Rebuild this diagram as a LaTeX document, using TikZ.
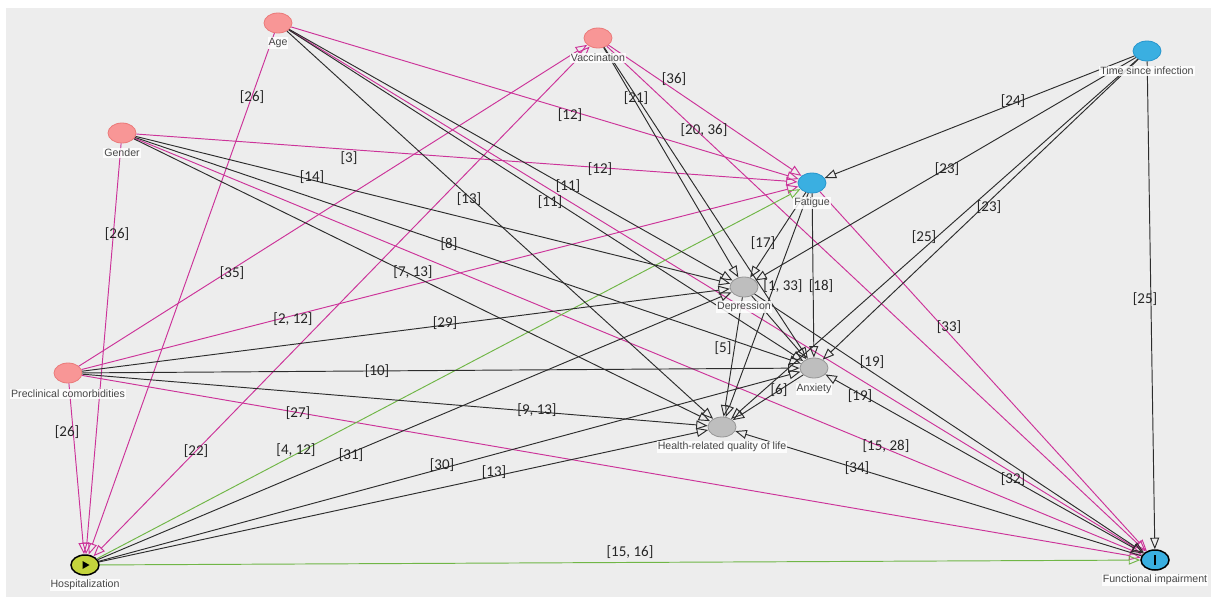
\documentclass[tikz,border=0pt]{standalone}
\usepackage{fontspec}
\setmainfont{Liberation Sans}
\newfontfamily\labfont{Carlito}
\usetikzlibrary{arrows.meta,shapes.geometric}

\definecolor{panel}{RGB}{237,237,237}
\definecolor{pinkedge}{RGB}{204,51,153}
\definecolor{greenedge}{RGB}{112,182,70}
\definecolor{darkedge}{RGB}{45,45,45}
\definecolor{rednode}{RGB}{248,150,150}
\definecolor{rednodeb}{RGB}{235,122,122}
\definecolor{bluenode}{RGB}{58,175,225}
\definecolor{bluenodeb}{RGB}{40,150,205}
\definecolor{graynode}{RGB}{190,190,190}
\definecolor{graynodeb}{RGB}{150,150,150}
\definecolor{hospfill}{RGB}{196,212,60}

\tikzset{
  var/.style={ellipse, minimum width=28pt, minimum height=20pt, inner sep=0pt, line width=0.8pt},
  covar/.style={var, fill=rednode, draw=rednodeb},
  outc/.style={var, fill=bluenode, draw=bluenodeb},
  med/.style={var, fill=graynode, draw=graynodeb},
  expo/.style={var, fill=hospfill, draw=black, line width=1.5pt},
  outcome/.style={var, fill=bluenode, draw=black, line width=1.5pt},
  vname/.style={font=\fontsize{10.6}{12}\selectfont, text=black!72, fill=white, fill opacity=0.85, text opacity=1, inner sep=1pt},
  elab/.style={font=\labfont\fontsize{15}{16}\selectfont, text=black!85, inner sep=0pt},
  tip/.tip={Triangle[open, length=11.5pt, width=9pt]},
  arr/.style={-tip, line width=0.95pt},
  twoway/.style={tip-tip, line width=0.95pt},
  blk/.style={arr, draw=darkedge},
  pnk/.style={arr, draw=pinkedge},
  grn/.style={arr, draw=greenedge},
}

\begin{document}
\begin{tikzpicture}[x=1pt, y=-1pt]
\useasboundingbox (0,0) rectangle (1213,599);
\fill[panel] (6,8) rectangle (1211,597);

% variables
\node[covar]   (age)     at (278,23)  {};
\node[covar]   (gender)  at (122,133) {};
\node[covar]   (vacc)    at (598,38)  {};
\node[outc]    (tsi)     at (1147,51) {};
\node[outc]    (fatigue) at (812,183) {};
\node[med]     (dep)     at (744,287) {};
\node[med]     (anx)     at (814,368) {};
\node[med]     (hrq)     at (722,427) {};
\node[covar]   (precl)   at (68,373)  {};
\node[expo]    (hosp)    at (85,565)  {};
\node[outcome] (fi)      at (1155,560) {};

% biasing paths
\draw[pnk] (age) -- (hosp);
\draw[pnk] (age) -- (fatigue);
\draw[pnk] (age) -- (fi);
\draw[pnk] (gender) -- (fatigue);
\draw[pnk] (gender) -- (fi);
\draw[pnk] (gender) -- (hosp);
\draw[pnk] (vacc) -- (fatigue);
\draw[pnk] (vacc) -- (fi);
\draw[twoway, draw=pinkedge] (vacc) -- (hosp);
\draw[pnk] (precl) -- (vacc);
\draw[pnk] (precl) -- (fatigue);
\draw[pnk] (precl) -- (fi);
\draw[pnk] (precl) -- (hosp);
\draw[pnk] (fatigue) -- (fi);

% causal paths
\draw[grn] (hosp) -- (fatigue);
\draw[grn] (hosp) -- (fi);

% other arrows
\draw[blk] (age) -- (dep);
\draw[blk] (age) -- (anx);
\draw[blk] (age) -- (hrq);
\draw[blk] (gender) -- (dep);
\draw[blk] (gender) -- (anx);
\draw[blk] (gender) -- (hrq);
\draw[blk] (vacc) -- (dep);
\draw[blk] (vacc) -- (anx);
\draw[blk] (tsi) -- (fatigue);
\draw[blk] (tsi) -- (dep);
\draw[blk] (tsi) -- (anx);
\draw[blk] (tsi) -- (hrq);
\draw[blk] (tsi) -- (fi);
\draw[blk] (fatigue) -- (dep);
\draw[blk] (fatigue) -- (anx);
\draw[blk] (fatigue) -- (hrq);
\draw[blk] (dep) -- (anx);
\draw[blk] (dep) -- (hrq);
\draw[blk] (dep) -- (fi);
\draw[blk] (anx) -- (hrq);
\draw[twoway, draw=darkedge] (anx) -- (fi);
\draw[blk] (fi) -- (hrq);
\draw[blk] (precl) -- (dep);
\draw[blk] (precl) -- (anx);
\draw[blk] (precl) -- (hrq);
\draw[blk] (hosp) -- (dep);
\draw[blk] (hosp) -- (anx);
\draw[blk] (hosp) -- (hrq);

% exposure and outcome marks
\fill[black] ([xshift=-2.5pt,yshift=4pt]hosp.center) -- ([xshift=4.5pt]hosp.center)
  -- ([xshift=-2.5pt,yshift=-4pt]hosp.center) -- cycle;
\fill[black] ([xshift=-1.3pt,yshift=-5pt]fi.center) rectangle ([xshift=1.3pt,yshift=5pt]fi.center);

% variable names
\node[vname] (age-t)     at (278,43)  {Age};
\node[vname] (gender-t)  at (122,153) {Gender};
\node[vname] (vacc-t)    at (598,58)  {Vaccination};
\node[vname] (tsi-t)     at (1147,71) {Time since infection};
\node[vname] (fatigue-t) at (812,203) {Fatigue};
\node[vname] (dep-t)     at (744,307) {Depression};
\node[vname] (anx-t)     at (814,389) {Anxiety};
\node[vname] (hrq-t)     at (722,447) {Health-related quality of life};
\node[vname] (precl-t)   at (68,394)  {Preclinical comorbidities};
\node[vname] (hosp-t)    at (85,585)  {Hospitalization};
\node[vname] (fi-t)      at (1155,580) {Functional impairment};

% references on the arrows
\node[elab] (r01) at (252,97)  {[26]};
\node[elab] (r02) at (117,234) {[26]};
\node[elab] (r03) at (349,158) {[3]};
\node[elab] (r04) at (312,177) {[14]};
\node[elab] (r05) at (232,273) {[35]};
\node[elab] (r06) at (570,115) {[12]};
\node[elab] (r07) at (674,79)  {[36]};
\node[elab] (r08) at (636,98)  {[21]};
\node[elab] (r09) at (704,130) {[20, 36]};
\node[elab] (r10) at (600,169) {[12]};
\node[elab] (r11) at (568,186) {[11]};
\node[elab] (r12) at (469,199) {[13]};
\node[elab] (r13) at (550,202) {[11]};
\node[elab] (r14) at (449,244) {[8]};
\node[elab] (r15) at (413,272) {[7, 13]};
\node[elab] (r16) at (763,243) {[17]};
\node[elab] (r17) at (783,286) {[1, 33]};
\node[elab] (r18) at (821,286) {[18]};
\node[elab] (r19) at (1013,101) {[24]};
\node[elab] (r20) at (947,169) {[23]};
\node[elab] (r21) at (989,207) {[23]};
\node[elab] (r22) at (924,237) {[25]};
\node[elab] (r23) at (1145,299) {[25]};
\node[elab] (r24) at (293,319) {[2, 12]};
\node[elab] (r25) at (377,371) {[10]};
\node[elab] (r26) at (298,413) {[27]};
\node[elab] (r27) at (67,432)  {[26]};
\node[elab] (r28) at (196,451) {[22]};
\node[elab] (r29) at (296,450) {[4, 12]};
\node[elab] (r30) at (351,455) {[31]};
\node[elab] (r31) at (445,323) {[29]};
\node[elab] (r32) at (723,348) {[5]};
\node[elab] (r33) at (779,390) {[6]};
\node[elab] (r34) at (537,410) {[9, 13]};
\node[elab] (r35) at (442,465) {[30]};
\node[elab] (r36) at (494,472) {[13]};
\node[elab] (r37) at (630,552) {[15, 16]};
\node[elab] (r38) at (949,327) {[33]};
\node[elab] (r39) at (872,362) {[19]};
\node[elab] (r40) at (860,396) {[19]};
\node[elab] (r41) at (886,446) {[15, 28]};
\node[elab] (r42) at (857,468) {[34]};
\node[elab] (r43) at (1013,479) {[32]};
\end{tikzpicture}
\end{document}
